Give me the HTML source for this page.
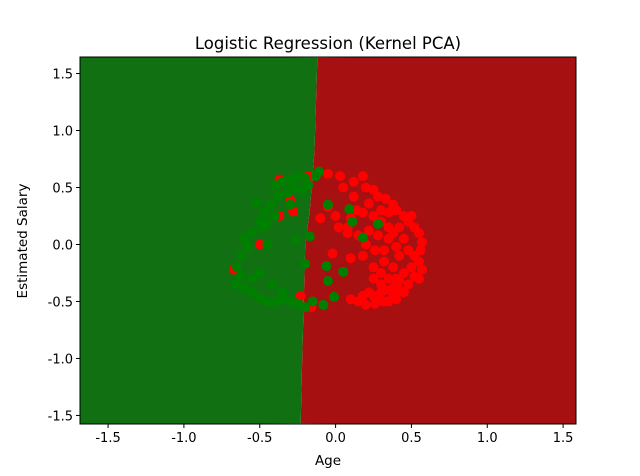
<!DOCTYPE html>
<html><head><meta charset="utf-8"><style>
body{margin:0;background:#fff}
svg{display:block;font-family:"DejaVu Sans","Liberation Sans",sans-serif}
</style></head><body>
<svg id="chart" width="640" height="476">
<text x="328" y="49" text-anchor="middle" font-size="16.5">Logistic Regression (Kernel PCA)</text>
<text x="328" y="465" text-anchor="middle" font-size="13.5">Age</text>
<text transform="translate(27,241) rotate(-90)" text-anchor="middle" font-size="13.5">Estimated Salary</text>
<g id="regions"></g><g id="pts"></g><g id="axes"></g>
</svg>
<script>
const xTicks=[-1.5,-1.0,-0.5,0.0,0.5,1.0,1.5];
const yTicks=[-1.5,-1.0,-0.5,0.0,0.5,1.0,1.5];
const boundaryX=[-0.12,-0.13,-0.14,-0.17,-0.2,-0.21,-0.22,-0.23];
const boundaryY=[1.64,1.2,0.8,0.3,0.0,-0.5,-1.0,-1.57];
const redX=[-0.37,-0.3,-0.28,-0.37,-0.5,-0.67,-0.23,-0.16,-0.05,0.05,0.12,0.18,0.2,0.25,0.28,0.33,0.38,0.4,0.45,0.48,0.52,0.55,0.57,0.56,0.55,0.57,0.52,0.48,0.42,0.38,0.32,0.26,0.2,0.15,0.1,0.0,0.1,0.18,0.25,0.3,0.35,0.22,0.28,0.35,0.42,0.45,0.48,0.42,0.38,0.3,0.25,0.3,0.35,0.4,0.45,0.5,0.3,0.22,0.28,0.35,0.42,0.32,0.25,0.2,0.15,0.08,0.02,-0.1,-0.05,0.12,0.3,0.35,0.4,0.26,0.18,0.5,0.52,-0.18,-0.02,0.03,0.08,0.22,0.14,0.1,0.32,0.38,0.55,0.45,0.4,0.35,0.25,0.18,0.38];
const redY=[0.57,0.39,0.29,0.25,0.0,-0.22,-0.45,-0.55,0.62,0.5,0.55,0.6,0.5,0.48,0.42,0.4,0.35,0.3,0.25,0.2,0.15,0.1,0.02,-0.05,-0.15,-0.22,-0.28,-0.35,-0.4,-0.45,-0.5,-0.52,-0.53,-0.5,-0.48,0.25,0.23,0.28,0.25,0.2,0.28,0.12,0.08,0.05,0.15,0.05,-0.05,-0.1,-0.2,-0.25,-0.3,-0.35,-0.3,-0.3,-0.25,-0.2,-0.42,-0.42,-0.48,-0.4,-0.32,-0.15,-0.2,0.0,0.08,0.1,0.15,0.23,0.33,0.42,0.3,0.15,-0.02,-0.05,-0.1,0.25,-0.1,0.6,-0.08,0.6,0.15,0.36,0.3,-0.12,-0.05,0.1,-0.3,-0.42,-0.48,-0.5,-0.45,-0.45,-0.38];
const greenX=[-0.11,-0.13,-0.2,-0.25,-0.3,-0.35,-0.4,-0.27,-0.18,-0.22,-0.32,-0.38,-0.43,-0.47,-0.5,-0.45,-0.55,-0.6,-0.58,-0.62,-0.65,-0.63,-0.66,-0.6,-0.55,-0.5,-0.45,-0.4,-0.35,-0.3,-0.25,-0.2,-0.15,-0.42,-0.35,-0.55,-0.5,-0.17,-0.26,-0.2,-0.45,-0.4,-0.3,-0.52,-0.48,-0.05,0.09,0.11,0.28,0.18,-0.06,0.05,-0.05,-0.01,-0.08];
const greenY=[0.64,0.6,0.58,0.6,0.57,0.55,0.52,0.5,0.52,0.47,0.45,0.42,0.35,0.28,0.2,0.18,0.1,0.05,-0.02,-0.1,-0.2,-0.28,-0.35,-0.38,-0.42,-0.47,-0.5,-0.5,-0.48,-0.5,-0.52,-0.55,-0.5,-0.35,-0.42,-0.3,-0.25,0.07,0.04,-0.17,0.0,0.25,0.35,0.37,0.15,0.35,0.31,0.2,0.18,0.06,-0.19,-0.24,-0.32,-0.46,-0.53];
const L=80,R=576,T=57,B=424,xmin=-1.685,xmax=1.585,ymin=-1.575,ymax=1.645;
const sx=v=>L+(v-xmin)/(xmax-xmin)*(R-L), sy=v=>T+(ymax-v)/(ymax-ymin)*(B-T);
const NS="http://www.w3.org/2000/svg";
function mk(tag,attrs,parent){const e=document.createElementNS(NS,tag);for(const k in attrs)e.setAttribute(k,attrs[k]);parent.appendChild(e);return e;}
const reg=document.getElementById('regions');
const bpts=boundaryX.map((x,i)=>sx(x)+','+sy(boundaryY[i]));
const red=mk('polygon',{points:[R+','+T,...bpts,R+','+B].join(' '),fill:'#a61010'},reg);


const green=mk('polygon',{points:[L+','+T,...bpts,L+','+B].join(' '),fill:'#117011'},reg);


const pts=document.getElementById('pts');
redX.forEach((x,i)=>{const c=mk('circle',{cx:sx(x),cy:sy(redY[i]),r:5,fill:'#ff0000'},pts);

});
greenX.forEach((x,i)=>{const c=mk('circle',{cx:sx(x),cy:sy(greenY[i]),r:5,fill:'#008000'},pts);

});
const ax=document.getElementById('axes');
const fr=mk('rect',{x:L,y:T,width:R-L,height:B-T,fill:'none',stroke:'#000','stroke-width':1},ax);


xTicks.forEach(t=>{const x=sx(t);mk('line',{x1:x,x2:x,y1:B,y2:B+4,stroke:'#000'},ax);
const tx=mk('text',{x:x,y:B+18,'text-anchor':'middle','font-size':13},ax);tx.textContent=t.toFixed(1);

});
yTicks.forEach(t=>{const y=sy(t);mk('line',{x1:L-4,x2:L,y1:y,y2:y,stroke:'#000'},ax);
const tx=mk('text',{x:L-7,y:y+5,'text-anchor':'end','font-size':13},ax);tx.textContent=t.toFixed(1);

});
</script>
</body></html>
